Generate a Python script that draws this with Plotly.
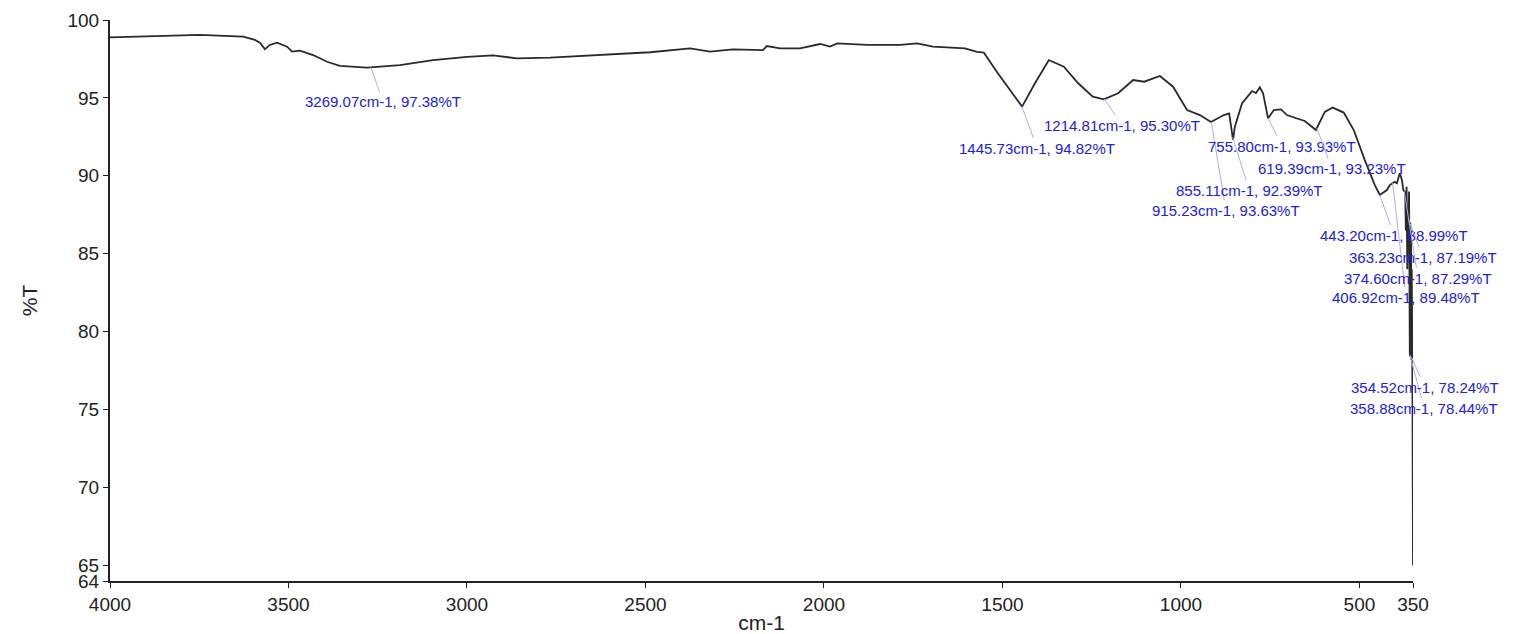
import numpy as np
import plotly.graph_objects as go

# IR spectrum (wavenumber in cm-1, transmittance in %T)
wavenumber = [
    4000, 3888, 3748, 3627, 3594, 3580, 3566, 3552, 3532, 3504, 3490, 3468,
    3431, 3392, 3356, 3280, 3188, 3095, 3000, 2927, 2860, 2767, 2627, 2487,
    2375, 2319, 2255, 2171, 2160, 2123, 2067, 2011, 1983, 1963, 1879, 1787,
    1739, 1695, 1605, 1571, 1552, 1513, 1445, 1409, 1370, 1328, 1288, 1247,
    1216, 1176, 1134, 1103, 1059, 1022, 983, 947, 916, 880, 865, 854, 849,
    829, 801, 790, 779, 770, 756, 740, 720, 703, 675, 653, 622, 597, 575,
    544, 516, 485, 457, 443, 423, 415, 401, 395, 390, 387, 381, 377, 373,
    372, 370, 368, 366, 364, 363.2, 361, 359.5, 358.9, 357.5, 356, 355.5,
    354.5, 353.5, 352.5, 351.5, 350.5, 350,
]
transmittance = [
    98.88, 98.94, 99.04, 98.93, 98.72, 98.54, 98.12, 98.40, 98.54, 98.29,
    97.97, 98.03, 97.75, 97.32, 97.05, 96.94, 97.11, 97.43, 97.64, 97.73,
    97.54, 97.58, 97.75, 97.93, 98.18, 97.97, 98.12, 98.07, 98.33, 98.18,
    98.18, 98.46, 98.29, 98.50, 98.40, 98.40, 98.50, 98.29, 98.18, 97.95,
    97.90, 96.58, 94.44, 95.94, 97.43, 97.00, 95.94, 95.08, 94.91, 95.30,
    96.15, 96.04, 96.41, 95.72, 94.22, 93.90, 93.45, 93.90, 94.01, 92.30,
    93.15, 94.65, 95.44, 95.31, 95.68, 95.30, 93.69, 94.22, 94.26, 93.90,
    93.68, 93.52, 92.94, 94.10, 94.38, 94.06, 92.94, 91.01, 89.41, 88.77,
    89.09, 89.41, 89.62, 89.52, 89.94, 90.16, 89.73, 89.09, 88.96,
    89.0, 86.5, 89.3, 84.0, 88.0, 87.2, 89.0, 82.0, 78.4, 87.0, 83.0,
    86.5, 78.2, 84.0, 80.5, 76.0, 70.0, 65.0,
]

# peak picks: position, label value, and where the label text sits (cm-1, %T)
peak_wn = [3269.07, 1445.73, 1214.81, 915.23, 855.11, 755.80, 619.39,
           443.20, 406.92, 374.60, 363.23, 358.88, 354.52]
peak_t = [97.38, 94.82, 95.30, 93.63, 92.39, 93.93, 93.23,
          88.99, 89.48, 87.29, 87.19, 78.44, 78.24]
label_wn = [3235, 1403, 1165, 874, 809, 717, 577, 403, 370, 336, 322, 319, 316]
label_t = [94.74, 91.78, 93.26, 87.80, 89.09, 91.91, 90.44,
           86.20, 82.22, 83.44, 84.79, 75.10, 76.44]

x_ticks = [4000, 3500, 3000, 2500, 2000, 1500, 1000, 500, 350]
y_ticks = [64, 65, 70, 75, 80, 85, 90, 95, 100]

fig = go.Figure()
fig.add_trace(go.Scatter(
    x=wavenumber, y=transmittance, mode="lines",
    line=dict(color="#2a2a2a", width=1.8),
    showlegend=False,
))

# leader lines start on the drawn curve
wn_sorted = np.array(wavenumber)[::-1]
t_sorted = np.array(transmittance)[::-1]
for wn, t, lx, ly in zip(peak_wn, peak_t, label_wn, label_t):
    fig.add_annotation(
        x=wn, y=float(np.interp(wn, wn_sorted, t_sorted)),
        text=f"{wn:.2f}cm-1, {t:.2f}%T",
        showarrow=True, arrowhead=0, arrowwidth=1, arrowcolor="#aab0ee",
        axref="x", ayref="y", ax=lx, ay=ly, standoff=0,
        font=dict(family="Liberation Sans, Arial", size=15, color="#2020e0"),
    )

axis_font = dict(family="Liberation Sans, Arial", size=19, color="#222")
title_font = dict(family="Liberation Sans, Arial", size=21, color="#222")
fig.update_layout(
    width=1514, height=634,
    margin=dict(l=110, r=101, t=20, b=53),
    plot_bgcolor="white", paper_bgcolor="white",
    xaxis=dict(
        range=[4000, 350], tickvals=x_ticks, ticktext=[str(v) for v in x_ticks],
        showgrid=False, zeroline=False, showline=True, linecolor="#222",
        linewidth=2, ticks="outside", ticklen=5, tickcolor="#222",
        tickfont=axis_font, automargin=False,
        title=dict(text="cm-1", font=title_font, standoff=3),
    ),
    yaxis=dict(
        range=[64, 100], tickvals=y_ticks, ticktext=[str(v) for v in y_ticks],
        showgrid=False, zeroline=False, showline=True, linecolor="#222",
        linewidth=2, ticks="outside", ticklen=5, tickcolor="#222",
        tickfont=axis_font, automargin=False,
        title=dict(text="%T", font=title_font, standoff=24),
    ),
)

fig.write_html("out.html", config={"displayModeBar": False},
               post_script="document.body.style.margin='0';")
